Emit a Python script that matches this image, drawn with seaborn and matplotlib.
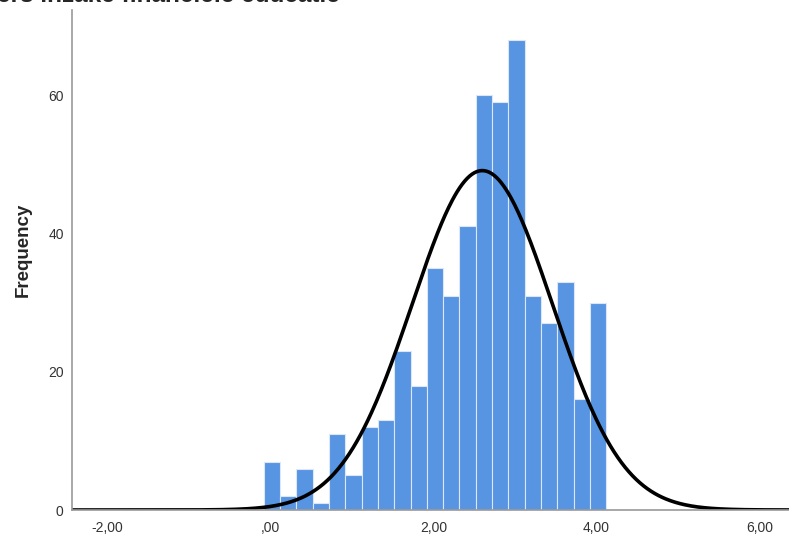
import numpy as np
import pandas as pd
from matplotlib import pyplot as plt
import seaborn as sns

# Histogram counts per bin, bins of width 0.2
bin_start = -0.08
bin_width = 0.2
counts = [7, 2, 6, 1, 11, 5, 12, 13, 23, 18, 35, 31, 41, 60, 59, 68, 31, 27, 33, 16, 30]

# Normal curve parameters
mean = 2.60
sd = 0.86

x_ticks = [-2, 0, 2, 4, 6]
x_labels = ['-2,00', ',00', '2,00', '4,00', '6,00']
y_ticks = [0, 20, 40, 60]

edges = bin_start + bin_width * np.arange(len(counts) + 1)
centers = (edges[:-1] + edges[1:]) / 2
df = pd.DataFrame({'score': centers, 'n': counts})

sns.set_style('white')
plt.rcParams['font.family'] = ['Liberation Sans', 'DejaVu Sans']

fig = plt.figure(figsize=(7.89, 5.36), dpi=100)
ax = fig.add_axes([72 / 789, 26 / 536, 1 - 72 / 789, 500 / 536])

sns.histplot(data=df, x='score', weights='n', bins=list(edges), color='#5794e2',
             edgecolor='#dbe6f7', linewidth=0.8, alpha=1, ax=ax)

total = sum(counts)
xs = np.linspace(-2.5, 6.5, 600)
ys = total * bin_width / (sd * np.sqrt(2 * np.pi)) * np.exp(-0.5 * ((xs - mean) / sd) ** 2)
sns.lineplot(x=xs, y=ys, color='black', linewidth=2.6, ax=ax)

ax.set_xlim(-2.43, 6.36)
ax.set_ylim(0, 72.3)
ax.set_xticks(x_ticks)
ax.set_xticklabels(x_labels)
ax.set_yticks(y_ticks)
ax.tick_params(axis='x', length=0, labelsize=10, colors='#333333', pad=8)
ax.tick_params(axis='y', length=0, labelsize=10, colors='#333333', pad=6)
ax.set_xlabel('')
ax.set_ylabel('Frequency', fontsize=13.5, fontweight='bold')
ax.yaxis.set_label_coords(-40 / 717, 0.52)

for side in ['top', 'right']:
    ax.spines[side].set_visible(False)
for side in ['left', 'bottom']:
    ax.spines[side].set_color('#999999')
    ax.spines[side].set_linewidth(1.2)

fig.text(-0.004, 1 - 2 / 536, 'ers inzake financiele educatie', fontsize=17.5,
         fontweight='bold', ha='left', va='baseline')

plt.savefig('out.png', dpi=100)
